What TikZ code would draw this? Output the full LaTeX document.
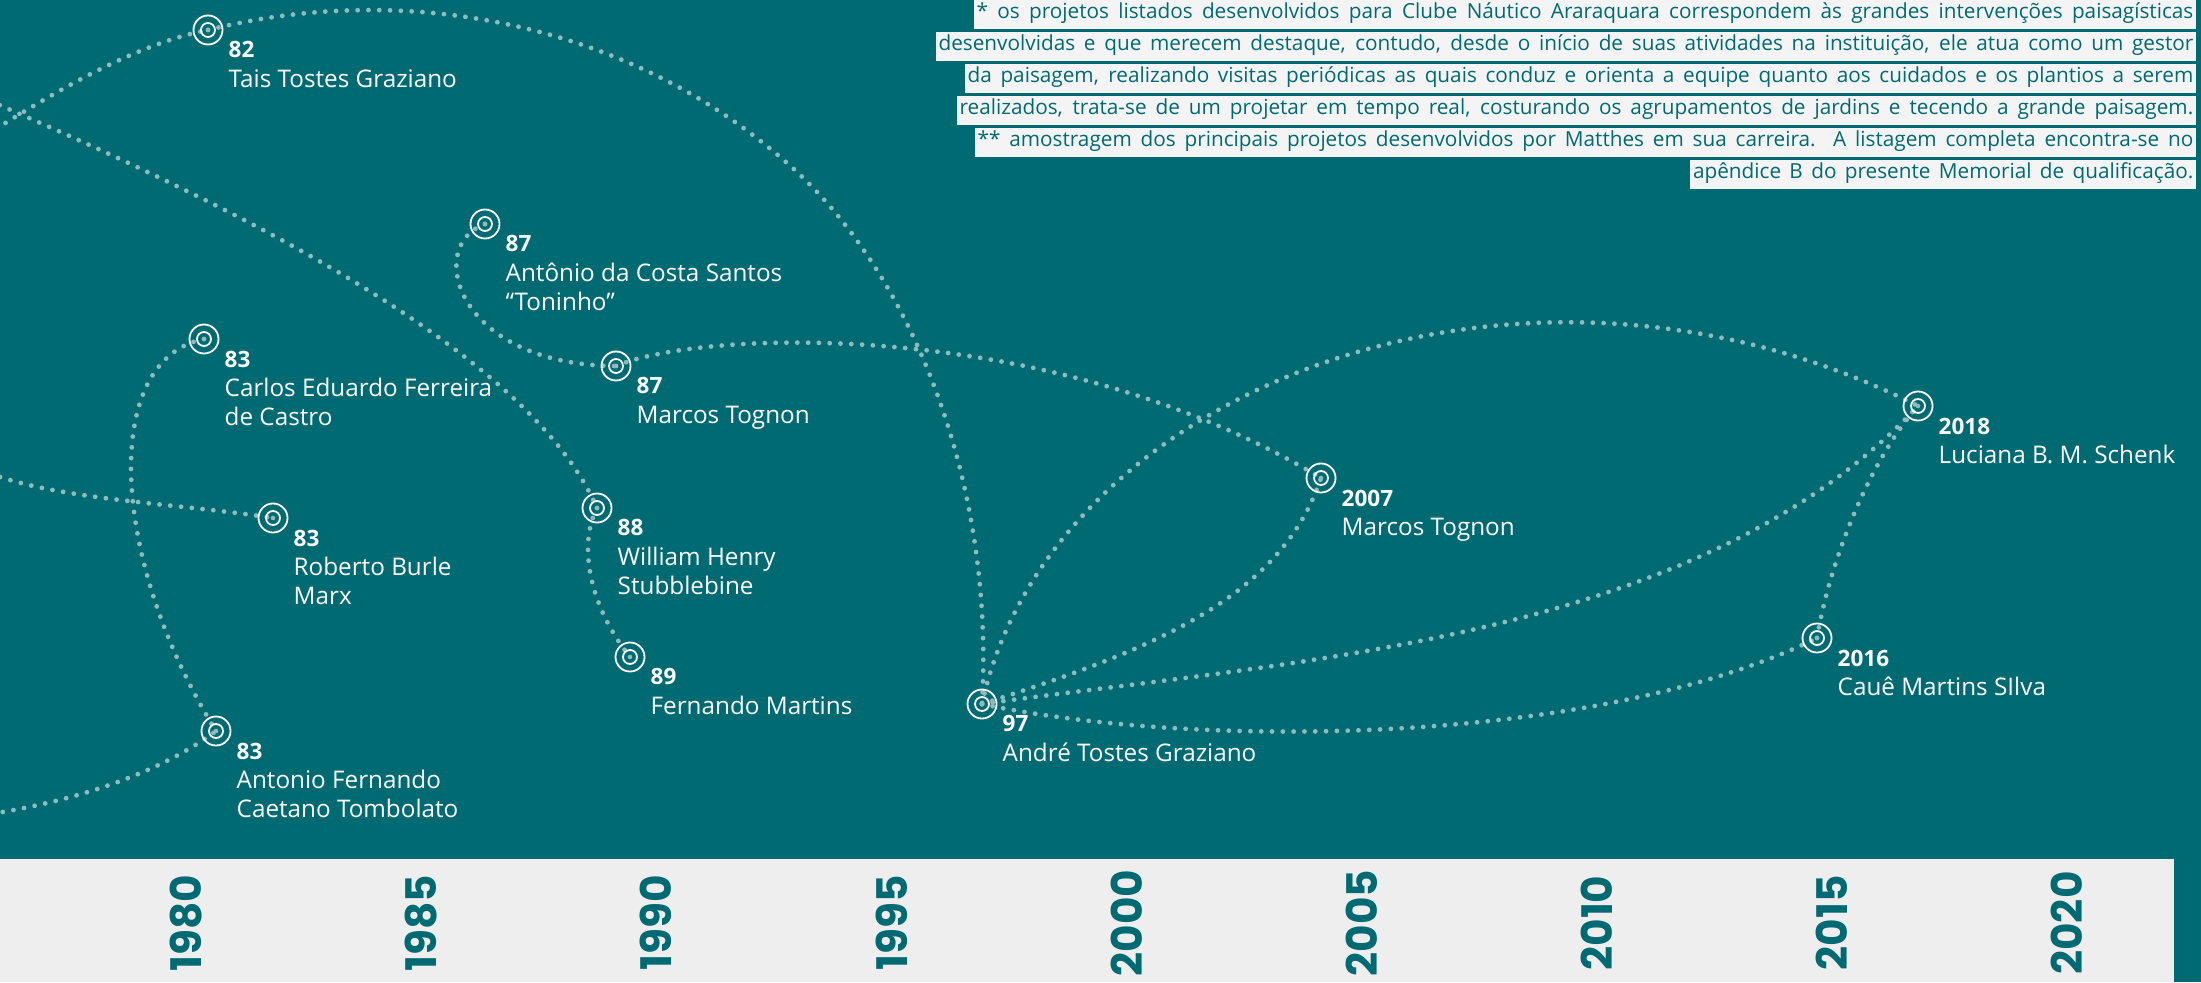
\documentclass[tikz,border=0pt]{standalone}
\usepackage{fontspec}
\setmainfont{Open Sans}
\newfontfamily\axisfont{Poppins}
\usetikzlibrary{positioning}

\definecolor{sea}{HTML}{006A72}
\definecolor{trailc}{HTML}{8DBBBE}
\definecolor{band}{HTML}{EEEEEE}
\definecolor{notebg}{HTML}{F4F4F4}

% year in bold above each name
\newcommand{\yr}[1]{{\fontsize{6.4}{8.3}\selectfont\bfseries #1}}

\begin{document}
\begin{tikzpicture}[x={(0.01cm,0)}, y={(0,-0.01cm)},
        trail/.style={draw=trailc, line width=0.048cm, line cap=round, dash pattern=on 0pt off 0.108cm},
        target/.style={circle, draw=white, line width=0.018cm, minimum size=0.29cm, inner sep=0pt,
            path picture={
                \draw[white, line width=0.018cm] (path picture bounding box.center) circle (7);
                \fill[trailc] (path picture bounding box.center) circle (2.3);}},
        who/.style={anchor=north west, inner sep=0pt, align=left, text=white,
            font=\fontsize{6.9}{8.3}\selectfont},
        note/.style={anchor=east, fill=notebg, text=sea, inner xsep=0.03cm, inner ysep=0.75pt,
            text height=4.6pt, text depth=2.1pt, font=\fontsize{5.9}{7}\selectfont},
        axis/.style={rotate=90, text=sea, font=\axisfont\bfseries\fontsize{12}{12}\selectfont}]
    \useasboundingbox (0,0) rectangle (2201,982);
    \fill[sea] (0,0) rectangle (2201,982);
    \fill[band] (0,859) rectangle (2174,982);

    % people
    \coordinate (tais) at (208,30);
    \coordinate (toninho) at (485,224);
    \coordinate (tognon) at (616,366);
    \coordinate (carlos) at (204,339);
    \coordinate (burle) at (273,518);
    \coordinate (william) at (597,508);
    \coordinate (fernando) at (630,657);
    \coordinate (tombolato) at (216,731);
    \coordinate (andre) at (982,704);
    \coordinate (tognon07) at (1321,478);
    \coordinate (luciana) at (1918,406);
    \coordinate (caue) at (1817,638);

    % dotted trails
    \begin{scope}
        \clip (0,0) rectangle (2201,859);
        \draw[trail] (-40,152) .. controls (40,100) and (130,45) .. (tais);
        \draw[trail] (tais) .. controls (408,-20) and (630,24) .. (787,163)
                            .. controls (910,270) and (995,480) .. (andre);
        \draw[trail] (-40,88) .. controls (150,170) and (520,330) .. (william);
        \draw[trail] (toninho) .. controls (425,245) and (455,365) .. (tognon);
        \draw[trail] (tognon) .. controls (700,330) and (1050,315) .. (tognon07);
        \draw[trail] (carlos) .. controls (100,360) and (110,560) .. (tombolato);
        \draw[trail] (-30,465) .. controls (40,500) and (170,502) .. (burle);
        \draw[trail] (-40,818) .. controls (50,808) and (150,780) .. (tombolato);
        \draw[trail] (william) .. controls (580,540) and (585,600) .. (fernando);
        \draw[trail] (andre) .. controls (1150,650) and (1280,600) .. (tognon07);
        \draw[trail] (andre) .. controls (1050,390) and (1520,205) .. (luciana);
        \draw[trail] (andre) .. controls (1300,660) and (1700,640) .. (luciana);
        \draw[trail] (andre) .. controls (1200,750) and (1600,745) .. (caue);
        \draw[trail] (caue) .. controls (1830,560) and (1870,460) .. (luciana);
    \end{scope}

    \node[target] (tais-t) at (tais) {};
    \node[target] (toninho-t) at (toninho) {};
    \node[target] (tognon-t) at (tognon) {};
    \node[target] (carlos-t) at (carlos) {};
    \node[target] (burle-t) at (burle) {};
    \node[target] (william-t) at (william) {};
    \node[target] (fernando-t) at (fernando) {};
    \node[target] (tombolato-t) at (tombolato) {};
    \node[target] (andre-t) at (andre) {};
    \node[target] (tognon07-t) at (tognon07) {};
    \node[target] (luciana-t) at (luciana) {};
    \node[target] (caue-t) at (caue) {};

    \node[who] (tais-l) at ([shift={(20,11)}]tais) {\yr{82}\\Tais Tostes Graziano};
    \node[who] (toninho-l) at ([shift={(20,11)}]toninho) {\yr{87}\\Antônio da Costa Santos\\“Toninho”};
    \node[who] (tognon-l) at ([shift={(20,11)}]tognon) {\yr{87}\\Marcos Tognon};
    \node[who] (carlos-l) at ([shift={(20,11)}]carlos) {\yr{83}\\Carlos Eduardo Ferreira\\de Castro};
    \node[who] (burle-l) at ([shift={(20,11)}]burle) {\yr{83}\\Roberto Burle\\Marx};
    \node[who] (william-l) at ([shift={(20,11)}]william) {\yr{88}\\William Henry\\Stubblebine};
    \node[who] (fernando-l) at ([shift={(20,11)}]fernando) {\yr{89}\\Fernando Martins};
    \node[who] (tombolato-l) at ([shift={(20,11)}]tombolato) {\yr{83}\\Antonio Fernando\\Caetano Tombolato};
    \node[who] (andre-l) at ([shift={(20,11)}]andre) {\yr{97}\\André Tostes Graziano};
    \node[who] (tognon07-l) at ([shift={(20,11)}]tognon07) {\yr{2007}\\Marcos Tognon};
    \node[who] (luciana-l) at ([shift={(20,11)}]luciana) {\yr{2018}\\Luciana B. M. Schenk};
    \node[who] (caue-l) at ([shift={(20,11)}]caue) {\yr{2016}\\Cauê Martins SIlva};

    % notes, one highlighted strip per line
    \node[note] (note1) at (2197,14.5) {\makebox[12.16cm][s]{* os projetos listados desenvolvidos para Clube Náutico Araraquara correspondem às grandes intervenções paisagísticas}};
    \node[note] (note2) at (2197,46.5) {\makebox[12.54cm][s]{desenvolvidas e que merecem destaque, contudo, desde o início de suas atividades na instituição, ele atua como um gestor}};
    \node[note] (note3) at (2197,78.5) {\makebox[12.25cm][s]{da paisagem, realizando visitas periódicas as quais conduz e orienta a equipe quanto aos cuidados e os plantios a serem}};
    \node[note] (note4) at (2197,110.5) {\makebox[12.33cm][s]{realizados, trata-se de um projetar em tempo real, costurando os agrupamentos de jardins e tecendo a grande paisagem.}};
    \node[note] (note5) at (2197,142.5) {\makebox[12.15cm][s]{** amostragem dos principais projetos desenvolvidos por Matthes em sua carreira. A listagem completa encontra-se no}};
    \node[note] (note6) at (2197,174.5) {\makebox[5.00cm][s]{apêndice B do presente Memorial de qualificação.}};

    % time axis
    \foreach \yv [count=\i from 0] in {1980,1985,...,2020}
        \node[axis] (axis\yv) at (186+235.1*\i,923) {\yv};
\end{tikzpicture}
\end{document}
